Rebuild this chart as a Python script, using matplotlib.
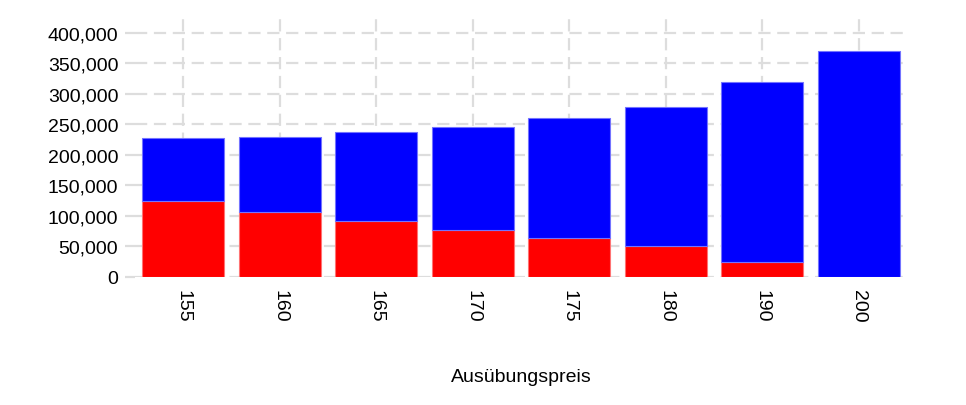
import matplotlib
matplotlib.use("Agg")
import matplotlib.pyplot as plt
from matplotlib.ticker import FuncFormatter

categories = ["155", "160", "165", "170", "175", "180", "190", "200"]
red_values = [125000, 107000, 92000, 77000, 64000, 51000, 25000, 0]
blue_values = [103000, 122500, 145000, 168000, 197000, 227000, 294000, 371000]
y_ticks = [0, 50000, 100000, 150000, 200000, 250000, 300000, 350000, 400000]
x_title = "Ausübungspreis"

plt.rcParams['font.family'] = ['Liberation Sans', 'DejaVu Sans']
FS = 14

W, H = 966, 406
fig = plt.figure(figsize=(W / 100, H / 100), dpi=100)
left, right, top, bottom = 135, 907, 18, 278
ax = fig.add_axes([left / W, 1 - bottom / H, (right - left) / W, (bottom - top) / H])

x = list(range(len(categories)))
ax.bar(x, red_values, width=0.85, color="#ff0000", edgecolor=(1, 0.45, 0.45, 1), linewidth=0.8, zorder=3)
ax.bar(x, blue_values, width=0.85, bottom=red_values, color="#0000ff", edgecolor=(0.45, 0.45, 1, 1), linewidth=0.8, zorder=3)

ax.set_xlim(-0.5, len(categories) - 0.5)
ax.set_ylim(0, 426000)
ax.set_yticks(y_ticks)
ax.yaxis.set_major_formatter(FuncFormatter(lambda v, p: f"{int(v):,}"))
ax.set_xticks(x)
ax.set_xticklabels(categories, rotation=270, fontsize=FS)
for lab in ax.get_yticklabels():
    lab.set_fontsize(FS)

ax.grid(True, color="#dddddd", linewidth=1.6, linestyle=(0, (5.5, 3)), zorder=0)
for s in ax.spines.values():
    s.set_visible(False)
ax.tick_params(axis='y', length=7, width=1.6, color="#dddddd", pad=5, labelsize=FS)
ax.tick_params(axis='x', length=0, pad=9, labelsize=FS)

fig.text((left + right) / 2 / W, 1 - 382 / H, x_title, ha='center', va='baseline', fontsize=FS)

fig.savefig("out.png", dpi=100, facecolor="white")
